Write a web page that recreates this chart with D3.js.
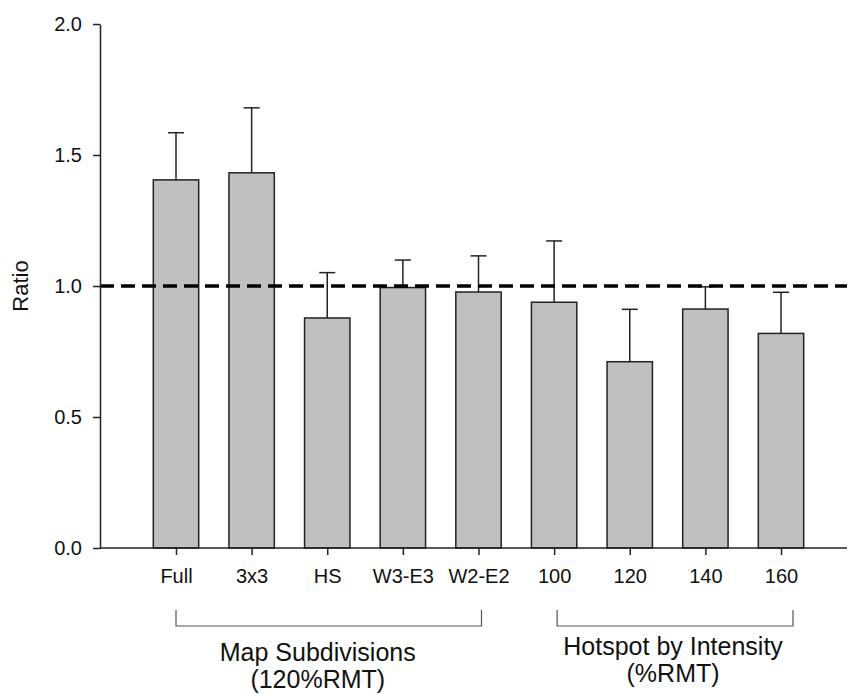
<!DOCTYPE html>
<html>
<head>
<meta charset="utf-8">
<script src="https://cdn.jsdelivr.net/npm/d3@7"></script>
<style>
  body { margin: 0; background: #fff; }
  text { font-family: "Liberation Sans", Arial, sans-serif; fill: #111; }
</style>
</head>
<body>
<div id="chart"></div>
<script>
// data
var categories = ["Full", "3x3", "HS", "W3-E3", "W2-E2", "100", "120", "140", "160"];
var ratios = [1.405, 1.432, 0.878, 0.994, 0.977, 0.938, 0.711, 0.912, 0.819];
var errors = [0.180, 0.248, 0.173, 0.105, 0.138, 0.234, 0.200, 0.085, 0.157];
var yTicks = [0, 0.5, 1.0, 1.5, 2.0];
var refValue = 1.0;
var groupLines = [["Map Subdivisions", "(120%RMT)"], ["Hotspot by Intensity", "(%RMT)"]];
var groupFirst = ["Full", "100"];
var groupLast = ["W2-E2", "160"];

var W = 849, H = 694;
var plot = {left: 100, right: 847, top: 24, bottom: 548};

var svg = d3.select("#chart")
  .append("svg")
    .attr("width", W)
    .attr("height", H);

// scales
var x = d3.scalePoint()
  .domain(categories)
  .range([176, 781]);
var barW = x.step() * 0.6;

var y = d3.scaleLinear()
  .domain([0, 2])
  .range([plot.bottom, plot.top]);

// error bars (upper only)
var capW = 16;
categories.forEach(function(c, i) {
  var cx = x(c);
  svg.append("line")
    .attr("x1", cx).attr("x2", cx)
    .attr("y1", y(ratios[i])).attr("y2", y(ratios[i] + errors[i]))
    .attr("stroke", "#222").attr("stroke-width", 1.5);
  svg.append("line")
    .attr("x1", cx - capW / 2).attr("x2", cx + capW / 2)
    .attr("y1", y(ratios[i] + errors[i])).attr("y2", y(ratios[i] + errors[i]))
    .attr("stroke", "#222").attr("stroke-width", 1.5);
});

// bars
svg.selectAll("rect.bar")
  .data(categories)
  .enter().append("rect")
    .attr("class", "bar")
    .attr("x", function(d) { return x(d) - barW / 2; })
    .attr("y", function(d, i) { return y(ratios[i]); })
    .attr("width", barW)
    .attr("height", function(d, i) { return y(0) - y(ratios[i]); })
    .attr("fill", "#c0c0c0")
    .attr("stroke", "#222")
    .attr("stroke-width", 1.5);

// reference line at 1.0
svg.append("line")
  .attr("x1", plot.left).attr("x2", plot.right)
  .attr("y1", y(refValue)).attr("y2", y(refValue))
  .attr("stroke", "#000")
  .attr("stroke-width", 3.5)
  .attr("stroke-dasharray", "14,7");

// y axis
var yAxis = svg.append("g")
  .attr("transform", "translate(" + plot.left + ",0)")
  .call(d3.axisLeft(y).tickValues(yTicks).tickFormat(d3.format(".1f"))
    .tickSize(7).tickSizeOuter(0).tickPadding(11));
yAxis.selectAll("text").style("font-size", "20px");

// x axis
var xAxis = svg.append("g")
  .attr("transform", "translate(0," + plot.bottom + ")")
  .call(d3.axisBottom(x).tickSize(7).tickSizeOuter(0).tickPadding(14));
xAxis.select(".domain").attr("d", "M" + plot.left + ",0H" + plot.right);
xAxis.selectAll("text").style("font-size", "20px");

svg.selectAll(".domain, .tick line").attr("stroke", "#222").attr("stroke-width", 1.5);

// y label
svg.append("text")
  .attr("transform", "translate(20," + y(refValue) + ") rotate(-90)")
  .attr("dy", "0.35em")
  .style("text-anchor", "middle")
  .style("font-size", "22px")
  .text("Ratio");

// group brackets and labels
var bracketPad = [[0, 3], [3, 12]];
var textShift = [-11, -2];
var labelBase = [661, 655];
groupLines.forEach(function(lines, g) {
  var x0 = x(groupFirst[g]) + bracketPad[g][0];
  var x1 = x(groupLast[g]) + bracketPad[g][1];
  svg.append("path")
    .attr("d", "M" + x0 + ",610V626H" + x1 + "V610")
    .attr("fill", "none")
    .attr("stroke", "#555")
    .attr("stroke-width", 1.2);
  lines.forEach(function(t, k) {
    svg.append("text")
      .attr("x", (x0 + x1) / 2 + textShift[g])
      .attr("y", labelBase[g] + k * 27)
      .style("text-anchor", "middle")
      .style("font-size", "25px")
      .text(t);
  });
});
</script>
</body>
</html>
